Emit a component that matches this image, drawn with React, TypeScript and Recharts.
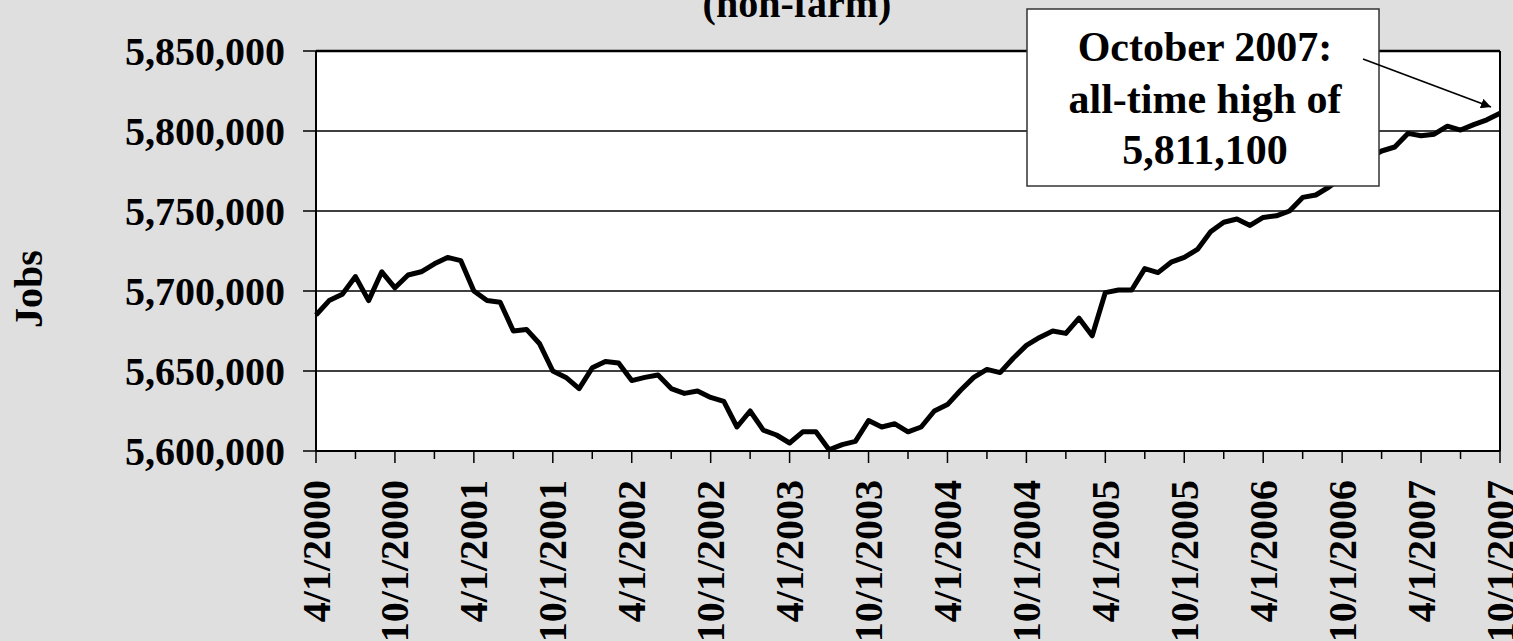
import React from 'react'
import {
  LineChart,
  Line,
  XAxis,
  YAxis,
  CartesianGrid,
  ReferenceLine,
} from 'recharts'

const FONT = '"Liberation Serif", "Times New Roman", serif'

// monthly, 4/1/2000 .. 10/1/2007
const START_YEAR = 2000
const START_MONTH = 4
const MONTH_COUNT = 91

const MONTHS: string[] = []
for (let i = 0; i < MONTH_COUNT; i++) {
  const m = ((START_MONTH - 1 + i) % 12) + 1
  const y = START_YEAR + Math.floor((START_MONTH - 1 + i) / 12)
  MONTHS.push(`${m}/1/${y}`)
}

const JOBS = [
  5685000, 5694000, 5698000, 5709000, 5694000, 5712000, 5702000, 5710000,
  5712000, 5717000, 5721000, 5719000, 5700000, 5694000, 5693000, 5675000,
  5676000, 5667000, 5650000, 5646000, 5639000, 5652000, 5656000, 5655000,
  5644000, 5646000, 5647500, 5639000, 5636000, 5637500, 5633500, 5631000,
  5615000, 5625000, 5613000, 5610000, 5605000, 5612000, 5612000, 5600800,
  5604000, 5606000, 5619000, 5615000, 5617000, 5612000, 5615000, 5625000,
  5629000, 5638000, 5646000, 5651000, 5649000, 5658000, 5666000, 5671000,
  5675000, 5673500, 5683000, 5672000, 5699000, 5700600, 5700600, 5714000,
  5711500, 5718000, 5721000, 5726000, 5737000, 5743000, 5745000, 5741000,
  5746000, 5747000, 5750000, 5758500, 5760000, 5765000, 5771000, 5776000,
  5783000, 5787500, 5790000, 5798500, 5797000, 5798000, 5803000, 5800600,
  5804000, 5807000, 5811100,
]

const Y_TICKS = [5600000, 5650000, 5700000, 5750000, 5800000, 5850000]

const NOTE_LINES = ['October 2007:', 'all-time high of', '5,811,100']

const data = MONTHS.map((month, i) => ({ month, jobs: JOBS[i] }))

function MonthTick({ x, y, payload }: any) {
  const idx = payload.index
  if (idx % 3 !== 0) return null
  const major = idx % 6 === 0
  return (
    <g>
      <line x1={x} x2={x} y1={y} y2={y + (major ? 12 : 8)} stroke="#000" strokeWidth={1.5} />
      {major && (
        <text
          transform={`translate(${x},${y + 29}) rotate(-90)`}
          textAnchor="end"
          dominantBaseline="central"
          fontFamily={FONT}
          fontWeight="bold"
          fontSize={40}
          fill="#000"
        >
          {payload.value}
        </text>
      )}
    </g>
  )
}

export default function App() {
  return (
    <div style={{ position: 'absolute', left: 0, top: 0, width: 1513, height: 641, background: '#dfdfdf', overflow: 'hidden' }}>
      <LineChart width={1513} height={641} data={data} margin={{ top: 51, right: 13, bottom: 0, left: 0 }}>
        <CartesianGrid vertical={false} stroke="#000" strokeWidth={1.5} fill="#fff" fillOpacity={1} />
        <XAxis
          dataKey="month"
          interval={0}
          height={190}
          tickSize={0}
          tickMargin={0}
          tickLine={false}
          axisLine={{ stroke: '#000', strokeWidth: 2 }}
          tick={<MonthTick />}
        />
        <YAxis
          type="number"
          domain={[5600000, 5850000]}
          ticks={Y_TICKS}
          allowDataOverflow
          width={316}
          tickSize={13}
          tickMargin={18}
          axisLine={{ stroke: '#000', strokeWidth: 2 }}
          tickLine={{ stroke: '#000', strokeWidth: 1.5 }}
          tickFormatter={(v: number) => v.toLocaleString('en-US')}
          tick={{ fontFamily: FONT, fontWeight: 'bold', fontSize: 40, fill: '#000' }}
        />
        <ReferenceLine y={5850000} stroke="#000" strokeWidth={2.5} />
        <ReferenceLine x={MONTHS[MONTHS.length - 1]} stroke="#000" strokeWidth={2} />
        <Line
          type="linear"
          dataKey="jobs"
          stroke="#000"
          strokeWidth={5}
          strokeLinejoin="round"
          dot={false}
          isAnimationActive={false}
        />
      </LineChart>
      <svg width={1513} height={641} style={{ position: 'absolute', left: 0, top: 0, pointerEvents: 'none' }}>
        <defs>
          <marker id="arrowHead" viewBox="0 0 10 10" refX={10} refY={5} markerWidth={10} markerHeight={10} orient="auto" markerUnits="userSpaceOnUse">
            <path d="M0,0 L10,5 L0,10 z" fill="#000" />
          </marker>
        </defs>
        <text x={797} y={17} textAnchor="middle" fontFamily={FONT} fontWeight="bold" fontSize={40} fill="#000">
          (non-farm)
        </text>
        <text
          transform="translate(28,289) rotate(-90)"
          textAnchor="middle"
          dominantBaseline="central"
          fontFamily={FONT}
          fontWeight="bold"
          fontSize={40}
          fill="#000"
        >
          Jobs
        </text>
        <rect x={1027} y={9} width={352} height={177} fill="#fff" stroke="#333" strokeWidth={1.5} />
        {NOTE_LINES.map((t, i) => (
          <text key={t} x={1205} y={61 + i * 51.5} textAnchor="middle" fontFamily={FONT} fontWeight="bold" fontSize={42} fill="#000">
            {t}
          </text>
        ))}
        <line x1={1363} y1={59} x2={1491} y2={107} stroke="#000" strokeWidth={1.8} markerEnd="url(#arrowHead)" />
      </svg>
    </div>
  )
}
